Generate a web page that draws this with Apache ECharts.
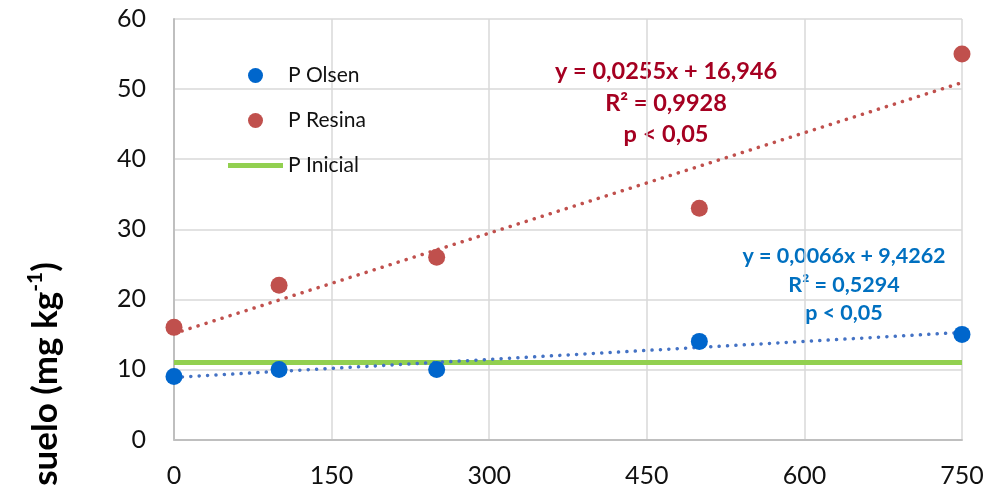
<!DOCTYPE html>
<html>
<head>
<meta charset="utf-8">
<script src="https://cdn.jsdelivr.net/npm/echarts@6/dist/echarts.min.js"></script>
<style>html,body{margin:0;padding:0;background:#fff}#c{width:988px;height:495px}</style>
</head>
<body>
<div id="c"></div>
<script>
const doses = [0, 100, 250, 500, 750];
const pOlsen = [9, 10, 10, 14, 15];
const pResina = [16, 22, 26, 33, 55];
const pInicialValue = 11;
const xTicks = [0, 150, 300, 450, 600, 750];
const yTicks = [0, 10, 20, 30, 40, 50, 60];
const seriesNames = ['P Olsen', 'P Resina', 'P Inicial'];
const eqResina = ['y = 0,0255x + 16,946', 'R² = 0,9928', 'p < 0,05'];
const eqOlsen = ['y = 0,0066x + 9,4262', 'R² = 0,5294', 'p < 0,05'];

function fit(xs, ys) {
  const n = xs.length;
  const mx = xs.reduce((a, b) => a + b, 0) / n;
  const my = ys.reduce((a, b) => a + b, 0) / n;
  let sxy = 0, sxx = 0;
  for (let i = 0; i < n; i++) { sxy += (xs[i] - mx) * (ys[i] - my); sxx += (xs[i] - mx) ** 2; }
  const b = sxy / sxx, a = my - b * mx;
  const x0 = xs[0], x1 = xs[n - 1];
  return [[x0, a + b * x0], [x1, a + b * x1]];
}
const pair = (xs, ys) => xs.map((x, i) => [x, ys[i]]);

const FONT = 'Lato';
const chart = echarts.init(document.getElementById('c'));
const trendStyle = (c) => ({ color: c, width: 3.5, type: [0.1, 8.3], cap: 'round' });

chart.setOption({
  animation: false,
  backgroundColor: '#fff',
  textStyle: { fontFamily: FONT },
  grid: { left: 174, right: 26, top: 19, bottom: 55.5 },
  xAxis: {
    type: 'value', min: xTicks[0], max: xTicks[xTicks.length - 1], interval: xTicks[1] - xTicks[0],
    axisLine: { lineStyle: { color: '#BFBFBF', width: 2 } },
    axisTick: { show: false },
    splitLine: { lineStyle: { color: '#D9D9D9', width: 1.5 } },
    axisLabel: { fontSize: 25, color: '#111', margin: 24, fontFamily: FONT }
  },
  yAxis: {
    type: 'value', min: yTicks[0], max: yTicks[yTicks.length - 1], interval: yTicks[1] - yTicks[0],
    axisLine: { show: true, lineStyle: { color: '#BFBFBF', width: 2 } },
    axisTick: { show: false },
    splitLine: { lineStyle: { color: '#D9D9D9', width: 1.5 } },
    axisLabel: { fontSize: 25, color: '#111', margin: 28, fontFamily: FONT }
  },
  legend: {
    data: [
      { name: seriesNames[0] },
      { name: seriesNames[1] },
      { name: seriesNames[2], icon: 'path://M0,0L55,0L55,5L0,5Z' }
    ],
    orient: 'vertical', left: 228, top: 65, padding: 0,
    itemWidth: 55, itemHeight: 15, itemGap: 24,
    textStyle: { fontSize: 21, color: '#111', fontFamily: FONT }
  },
  series: [
    { name: 'trendO', type: 'line', data: fit(doses, pOlsen), symbol: 'none', lineStyle: trendStyle('#4472C4'), z: 3, silent: true },
    { name: 'trendR', type: 'line', data: fit(doses, pResina), symbol: 'none', lineStyle: trendStyle('#C0504D'), z: 3, silent: true },
    { name: 'P Inicial', type: 'line', data: [[doses[0], pInicialValue], [doses[doses.length - 1], pInicialValue]], symbol: 'none', showSymbol: false,
      itemStyle: { color: '#92D050' }, lineStyle: { color: '#92D050', width: 5 }, z: 2 },
    { name: 'P Olsen', type: 'scatter', data: pair(doses, pOlsen), symbol: 'circle', symbolSize: 17, itemStyle: { color: '#0066CC', opacity: 1 }, z: 5 },
    { name: 'P Resina', type: 'scatter', data: pair(doses, pResina), symbol: 'circle', symbolSize: 17, itemStyle: { color: '#C0504D', opacity: 1 }, z: 5 }
  ],
  graphic: [
    { type: 'text', x: 666, y: 71, style: { text: eqResina[0], font: 'bold 23.5px ' + FONT, fill: '#A50021', align: 'center', verticalAlign: 'middle' } },
    { type: 'text', x: 666, y: 103, style: { text: eqResina[1], font: 'bold 23.5px ' + FONT, fill: '#A50021', align: 'center', verticalAlign: 'middle' } },
    { type: 'text', x: 666, y: 134, style: { text: eqResina[2], font: 'bold 23.5px ' + FONT, fill: '#A50021', align: 'center', verticalAlign: 'middle' } },
    { type: 'text', x: 844, y: 256, style: { text: eqOlsen[0], font: 'bold 21.5px ' + FONT, fill: '#0070C0', align: 'center', verticalAlign: 'middle' } },
    { type: 'text', x: 844, y: 285, style: { text: eqOlsen[1], font: 'bold 21.5px ' + FONT, fill: '#0070C0', align: 'center', verticalAlign: 'middle' } },
    { type: 'text', x: 844, y: 313, style: { text: eqOlsen[2], font: 'bold 21.5px ' + FONT, fill: '#0070C0', align: 'center', verticalAlign: 'middle' } },
    { type: 'text', x: 46, y: 374, rotation: Math.PI / 2,
      style: {
        text: '{b|suelo (mg kg}{s|-1}{b|)}', align: 'center', verticalAlign: 'middle', fill: '#000',
        rich: {
          b: { font: 'bold 35px ' + FONT, fill: '#000', lineHeight: 42, verticalAlign: 'middle' },
          s: { font: 'bold 21px ' + FONT, fill: '#000', lineHeight: 42, verticalAlign: 'top', padding: [0, 0, 18, 0] }
        }
      } }
  ]
});
</script>
</body>
</html>
